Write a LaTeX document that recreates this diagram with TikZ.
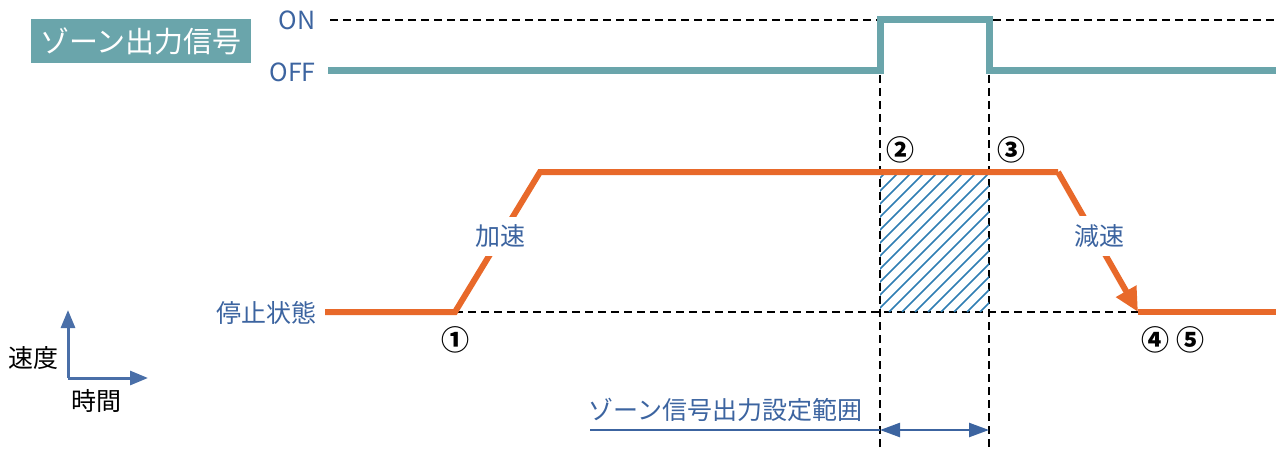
\documentclass[tikz,border=0pt]{standalone}
\usepackage{fontspec}
\setmainfont{Noto Sans CJK JP}
\usetikzlibrary{arrows.meta}
\definecolor{teal1}{HTML}{6AA5AB}
\definecolor{txtblue}{HTML}{3C64A0}
\definecolor{orng}{HTML}{E8692A}
\definecolor{hatch}{HTML}{2F7DB3}
\definecolor{axblue}{HTML}{4A6FA8}
\tikzset{
  dashln/.style={black, line width=0.75pt, dash pattern=on 4pt off 2.5pt},
  sig/.style={teal1, line width=3.5pt, line join=miter},
  spd/.style={orng, line width=3pt, line join=miter},
  lbl/.style={text=txtblue, font=\fontsize{12.5}{14}\selectfont, inner sep=1pt},
  num/.style={text=black, font=\fontsize{14}{16}\selectfont\bfseries, inner sep=0pt},
  gaplbl/.style={lbl, fill=white, inner sep=4pt},
}
\begin{document}
\begin{tikzpicture}[x=0.5pt,y=-0.5pt]
\useasboundingbox (0,0) rectangle (1278,449);
% title box
\node[fill=teal1, text=white, minimum width=110pt, minimum height=22pt, inner sep=0pt,
      font=\fontsize{14.5}{16}\selectfont] (title) at (141,41) {ゾーン出力信号};
\node[lbl, anchor=east] (on) at (318,20) {ON};
\node[lbl, anchor=east] (off) at (318,72) {OFF};
% coordinates
\coordinate (onL) at (330,20);
\coordinate (onR) at (1278,20);
\coordinate (s0) at (328,71);
\coordinate (s1) at (880,71);
\coordinate (s2) at (880,20);
\coordinate (s3) at (989,20);
\coordinate (s4) at (989,71);
\coordinate (s5) at (1276,71);
\coordinate (v1t) at (880,75);
\coordinate (v1b) at (880,449);
\coordinate (v2t) at (989,75);
\coordinate (v2b) at (989,449);
\coordinate (p0) at (325,312);
\coordinate (p1) at (455,312);
\coordinate (p2) at (540,172);
\coordinate (p3) at (1058,172);
\coordinate (p4) at (1138,312);
\coordinate (p5) at (1276,312);
% dashed reference lines
\draw[dashln] (onL) -- (onR);
\draw[dashln] (p1) -- (p4);
\draw[dashln] (v1t) -- (v1b);
\draw[dashln] (v2t) -- (v2b);
% hatching
\begin{scope}
\clip (880,172) rectangle (989,312);
\foreach \k in {-160,-147,...,130} {
  \draw[hatch, line width=0.8pt] (880+\k,312) -- ++(165,-165);
}
\end{scope}
% zone signal
\draw[sig] (s0) -- (s1) -- (s2) -- (s3) -- (s4) -- (s5);
% speed
\draw[spd] (p0) -- (p1) -- (p2) -- (p3);
\draw[spd, -{Triangle[length=12pt,width=11pt]}] (p3) -- (p4);
\draw[spd] (p4) -- (p5);
\node[gaplbl] (acc) at (500,236) {加速};
\node[gaplbl] (dec) at (1099,236) {減速};
\node[lbl, anchor=east] (stop) at (319,313) {停止状態};
% numbers
\node[num] (n1) at (455,340) {①};
\node[num] (n2) at (900,150) {②};
\node[num] (n3) at (1011,150) {③};
\node[num] (n4) at (1155,340) {④};
\node[num] (n5) at (1190,340) {⑤};
% axes icon
\coordinate (ax0) at (68,378);
\coordinate (axy) at (68,310);
\coordinate (axx) at (148,378);
\draw[axblue, line width=1.5pt, -{Triangle[length=9pt,width=7pt]}] (ax0) -- (axy);
\draw[axblue, line width=1.5pt, -{Triangle[length=9pt,width=7pt]}] (ax0) -- (axx);
\node[text=black, font=\fontsize{12.5}{14}\selectfont, inner sep=0pt] (vel) at (34,358) {速度};
\node[text=black, font=\fontsize{12.5}{14}\selectfont, inner sep=0pt] (tim) at (96,401) {時間};
% range
\node[lbl, anchor=south west] (rng) at (586,424) {ゾーン信号出力設定範囲};
\coordinate (r0) at (590,430);
\coordinate (r1) at (880,430);
\coordinate (r2) at (989,430);
\draw[txtblue, line width=1.2pt] (r0) -- (r1);
\draw[txtblue, line width=1.2pt, {Triangle[length=10pt,width=7pt]}-{Triangle[length=10pt,width=7pt]}] (r1) -- (r2);
\end{tikzpicture}
\end{document}
